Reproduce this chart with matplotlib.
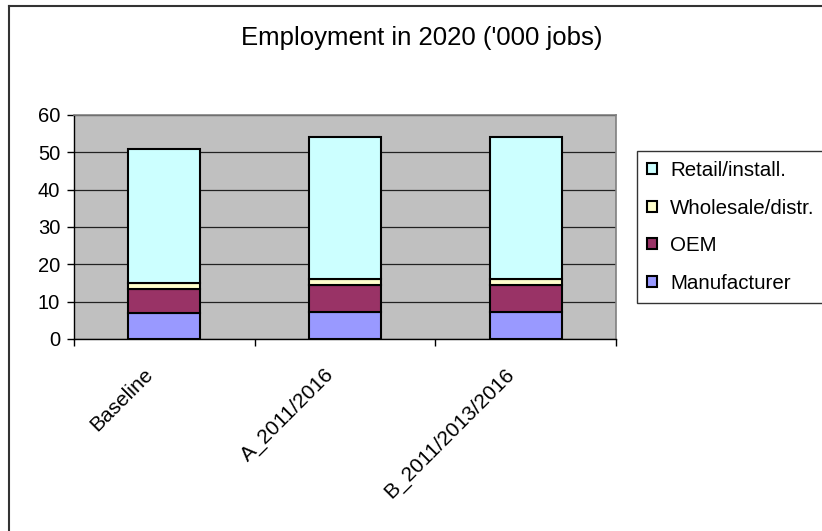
import numpy as np
import matplotlib
matplotlib.use("Agg")
import matplotlib.pyplot as plt
from matplotlib.lines import Line2D
from matplotlib.transforms import ScaledTranslation

plt.rcParams['font.family'] = ['Liberation Sans', 'DejaVu Sans']

scenarios = ["Baseline", "A_2011/2016", "B_2011/2013/2016"]
manufacturer = [6.9, 7.35, 7.35]
oem = [6.4, 7.05, 7.05]
wholesale = [1.8, 1.7, 1.7]
retail = [35.8, 38.1, 38.1]
series_names = ["Manufacturer", "OEM", "Wholesale/distr.", "Retail/install."]
series_colors = ["#9999FF", "#993366", "#FFFFCC", "#CCFFFF"]

fig = plt.figure(figsize=(8.22, 5.31), dpi=100)
ax = fig.add_axes([74 / 822, 1 - 339 / 531, 542 / 822, 224 / 531])
ax.set_facecolor("#C0C0C0")

x = np.arange(len(scenarios))
bottom = np.zeros(len(scenarios))
handles = []
for vals, name, col in zip([manufacturer, oem, wholesale, retail], series_names, series_colors):
    bars = ax.bar(x, vals, width=0.4, bottom=bottom, color=col, edgecolor="black",
                  linewidth=1.5, label=name, zorder=3)
    bottom += np.array(vals)
    handles.append(bars)

ax.set_xlim(-0.5, 2.5)
ax.set_ylim(0, 60)
ax.set_yticks(np.arange(0, 61, 10))
ax.yaxis.grid(True, color="#222222", linewidth=0.9, zorder=1)
ax.set_axisbelow(True)

# category ticks sit between bars; labels drawn as rotated texts under each bar
ax.set_xticks([-0.5, 0.5, 1.5, 2.5])
ax.set_xticklabels([])
ax.tick_params(axis="x", which="major", length=5, width=1, direction="out")
ax.tick_params(axis="y", length=5, width=1, direction="out", labelsize=14.5, pad=5)
lbl_trans = ax.get_xaxis_transform() + ScaledTranslation(-0.21, -0.26, fig.dpi_scale_trans)
for xi, name in zip(x, scenarios):
    ax.text(xi, 0, name, transform=lbl_trans, rotation=45, ha="right", va="top",
            rotation_mode="anchor", fontsize=15)

for side in ["left", "bottom"]:
    ax.spines[side].set_color("black")
    ax.spines[side].set_linewidth(1)
for side in ["top", "right"]:
    ax.spines[side].set_color("#808080")
    ax.spines[side].set_linewidth(1.2)

fig.text(422 / 822, 1 - 38 / 531, "Employment in 2020 ('000 jobs)", ha="center", va="center",
         fontsize=18.5)

leg = fig.legend(handles[::-1], series_names[::-1], loc="upper left",
                 bbox_to_anchor=(637 / 822, 1 - 151 / 531), fontsize=14.8,
                 frameon=True, fancybox=False, edgecolor="black", handlelength=0.45,
                 handleheight=0.45, handletextpad=0.65, labelspacing=0.9,
                 borderpad=0.5, borderaxespad=0)
leg.get_frame().set_linewidth(1)

# chart border (top and left visible in the crop)
fig.add_artist(Line2D([9 / 822, 9 / 822], [0, 1 - 6 / 531], transform=fig.transFigure,
                      color="#333333", linewidth=1.5))
fig.add_artist(Line2D([9 / 822, 1], [1 - 6 / 531, 1 - 6 / 531], transform=fig.transFigure,
                      color="#333333", linewidth=1.5))

fig.savefig("out.png", dpi=100)
